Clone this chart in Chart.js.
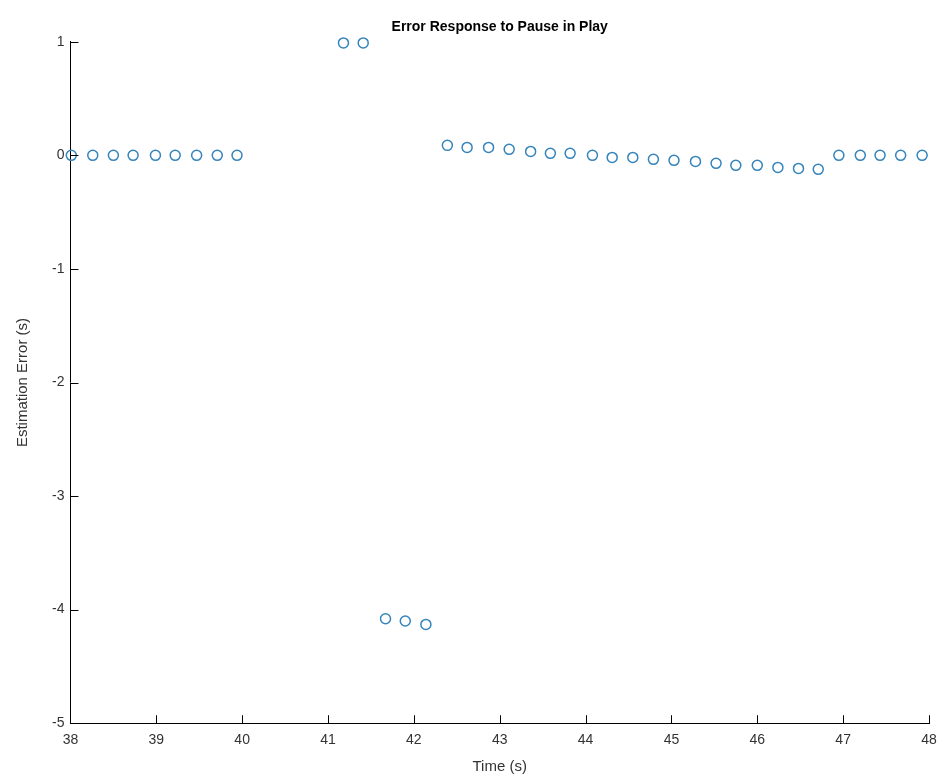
<!DOCTYPE html>
<html>
<head>
<meta charset="utf-8">
<script src="https://cdn.jsdelivr.net/npm/chart.js@4"></script>
<style>
  html, body { margin: 0; padding: 0; background: #fff; }
  #wrap { width: 939px; height: 778px; }
</style>
</head>
<body>
<div id="wrap"><canvas id="errChart" width="939" height="778"></canvas></div>
<script>
// --- data ---
const timeBefore = [38.01, 38.26, 38.50, 38.73, 38.99, 39.22, 39.47, 39.71, 39.94];
const errBefore  = [0, 0, 0, 0, 0, 0, 0, 0, 0];

const timeJump = [41.18, 41.41];
const errJump  = [0.99, 0.99];

const timeDrop = [41.67, 41.90, 42.14];
const errDrop  = [-4.08, -4.10, -4.13];

const timeAfter = [42.39, 42.62, 42.87, 43.11, 43.36, 43.59, 43.82, 44.08, 44.31, 44.55, 44.79, 45.03,
                   45.28, 45.52, 45.75, 46.00, 46.24, 46.48, 46.71, 46.95, 47.20, 47.43, 47.67, 47.92];
const errAfter  = [0.088, 0.07, 0.07, 0.053, 0.035, 0.018, 0.018, 0, -0.018, -0.018, -0.035, -0.044,
                   -0.053, -0.07, -0.088, -0.088, -0.106, -0.115, -0.123, 0, 0, 0, 0, 0];

const xTicks = [38, 39, 40, 41, 42, 43, 44, 45, 46, 47, 48];
const yTicks = [1, 0, -1, -2, -3, -4, -5];

function toPoints(xs, ys) {
    return xs.map((x, i) => ({ x: x, y: ys[i] }));
}

const allPoints = []
    .concat(toPoints(timeBefore, errBefore))
    .concat(toPoints(timeJump, errJump))
    .concat(toPoints(timeDrop, errDrop))
    .concat(toPoints(timeAfter, errAfter));

// MATLAB-style inward tick marks
const inwardTicks = {
    id: 'inwardTicks',
    afterDatasetsDraw(chart) {
        const { ctx, chartArea, scales } = chart;
        ctx.save();
        ctx.strokeStyle = '#000';
        ctx.lineWidth = 1;
        ctx.beginPath();
        xTicks.forEach(v => {
            const px = Math.round(scales.x.getPixelForValue(v)) + 0.5;
            ctx.moveTo(px, chartArea.bottom);
            ctx.lineTo(px, chartArea.bottom - 8);
        });
        yTicks.forEach(v => {
            const py = Math.round(scales.y.getPixelForValue(v)) + 0.5;
            ctx.moveTo(chartArea.left, py);
            ctx.lineTo(chartArea.left + 8, py);
        });
        ctx.stroke();
        ctx.restore();
    }
};

const ctx = document.getElementById('errChart').getContext('2d');
const myChart = new Chart(ctx, {
    type: 'scatter',
    data: {
        datasets: [{
            label: 'Estimation Error',
            data: allPoints,
            clip: false,
            pointStyle: 'circle',
            pointRadius: 5,
            pointBorderWidth: 1.5,
            pointBorderColor: '#3584bb',
            pointBackgroundColor: 'rgba(0,0,0,0)',
            showLine: false
        }]
    },
    options: {
        responsive: false,
        animation: false,
        layout: { padding: { left: 14, right: 10, top: 19, bottom: 2 } },
        plugins: {
            legend: { display: false },
            tooltip: { enabled: false },
            title: {
                display: true,
                text: 'Error Response to Pause in Play',
                fullSize: false,
                color: '#000',
                font: { family: 'Liberation Sans, Arial, sans-serif', size: 14, weight: 'bold' },
                padding: { top: 0, bottom: 6 }
            }
        },
        scales: {
            x: {
                type: 'linear',
                min: 38,
                max: 48,
                grid: { drawOnChartArea: false, drawTicks: false },
                border: { display: true, color: '#000', width: 1 },
                afterBuildTicks: axis => { axis.ticks = xTicks.map(v => ({ value: v })); },
                afterFit: axis => { axis.paddingLeft = 0; axis.paddingRight = 0; },
                ticks: {
                    color: '#333',
                    padding: 9,
                    font: { family: 'Liberation Sans, Arial, sans-serif', size: 14 }
                },
                title: {
                    display: true,
                    text: 'Time (s)',
                    color: '#333',
                    padding: { top: 0, bottom: 0 },
                    font: { family: 'Liberation Sans, Arial, sans-serif', size: 15 }
                }
            },
            y: {
                min: -5,
                max: 1,
                grid: { drawOnChartArea: false, drawTicks: false },
                border: { display: true, color: '#000', width: 1 },
                afterBuildTicks: axis => { axis.ticks = yTicks.map(v => ({ value: v })); },
                ticks: {
                    color: '#333',
                    padding: 6,
                    font: { family: 'Liberation Sans, Arial, sans-serif', size: 14 }
                },
                title: {
                    display: true,
                    text: 'Estimation Error (s)',
                    color: '#333',
                    padding: { top: 0, bottom: 14 },
                    font: { family: 'Liberation Sans, Arial, sans-serif', size: 15 }
                }
            }
        }
    },
    plugins: [inwardTicks]
});
</script>
</body>
</html>
